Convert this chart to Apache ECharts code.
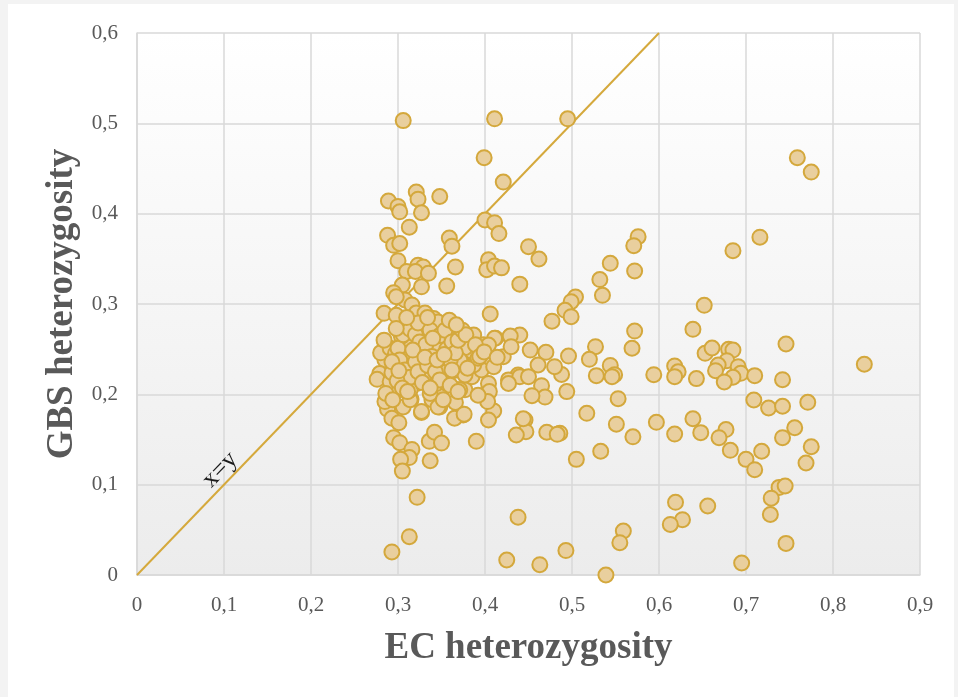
<!DOCTYPE html>
<html>
<head>
<meta charset="utf-8">
<script src="https://cdn.jsdelivr.net/npm/echarts@6/dist/echarts.min.js"></script>
<style>
  html, body { margin: 0; padding: 0; background: #f3f3f3; }
  #frame { position: absolute; left: 8px; top: 4px; right: 4px; bottom: 0; background: #ffffff; }
  #chart { position: absolute; left: -8px; top: -4px; width: 958px; height: 697px; }
</style>
</head>
<body>
<div id="frame"><div id="chart"></div></div>
<script>
// EC vs GBS heterozygosity per marker
const ecHet = [
  0.306,0.411,0.495,0.399,0.421,0.759,0.775,0.289,0.300,0.302,0.321,0.323,0.327,0.348,0.313,0.288,0.295,0.302,0.359,0.362,
  0.400,0.411,0.416,0.450,0.462,0.576,0.571,0.716,0.685,0.544,0.572,0.532,0.535,0.504,0.499,0.492,0.499,0.652,0.639,0.572,
  0.569,0.527,0.496,0.520,0.488,0.528,0.544,0.549,0.546,0.594,0.618,0.622,0.618,0.643,0.653,0.661,0.680,0.685,0.678,0.668,
  0.665,0.691,0.694,0.685,0.675,0.710,0.746,0.742,0.836,0.709,0.726,0.742,0.771,0.756,0.553,0.517,0.551,0.597,0.639,0.618,
  0.648,0.677,0.669,0.570,0.486,0.742,0.375,0.410,0.404,0.390,0.446,0.447,0.436,0.471,0.483,0.505,0.533,0.682,0.700,0.710,
  0.718,0.775,0.769,0.738,0.745,0.729,0.728,0.746,0.695,0.619,0.656,0.627,0.613,0.438,0.425,0.463,0.493,0.559,0.555,0.539,
  0.286,0.288,0.293,0.301,0.295,0.302,0.316,0.313,0.303,0.305,0.337,0.336,0.342,0.350,0.327,0.322,0.313,0.293,0.306,0.315,
  0.349,0.348,0.339,0.365,0.366,0.376,0.356,0.377,0.292,
  0.300,0.323,0.329,0.366,0.310,0.320,0.335,0.404,0.402,0.411,0.419,0.440,0.305,0.295,0.327,0.356,0.308,0.316,0.406,0.284,
  0.298,0.321,0.331,0.341,0.346,0.477,
  0.302,0.312,0.285,0.279,0.276,0.291,0.285,0.314,0.327,0.346,0.369,0.383,0.379,0.398,0.412,0.429,0.440,0.438,0.427,0.387,
  0.356,0.344,0.330,0.321,0.309,0.304,0.375,0.390,0.406,0.367,0.358,0.354,0.3425,0.333,0.329,0.318,0.310,0.308,0.3215,0.333,
  0.3445,0.302,0.314,0.337,0.357,0.352,0.385,0.396,
  0.452,0.470,0.461,0.480,0.494,0.465,0.469,0.454,0.440,0.450,0.427,0.429,0.411,0.404,0.377,0.410,0.404,0.405,0.387,0.392,
  0.371,0.377,0.421,0.430,0.352,0.356,0.355,0.371,0.403,0.444,
  0.280,0.291,0.297,0.300,0.306,0.314,0.320,0.323,0.325,0.332,0.337,0.339,0.348,0.354,0.356,0.360,0.362,0.366,0.369,0.374,
  0.378,0.389,0.394,0.302,0.308,0.314,0.320,0.323,0.328,0.334,0.343,0.348,0.362,0.293,0.299,0.305,0.311,0.286,0.294,0.317,
  0.331,0.345,0.353,0.380,0.284,0.298,0.310,0.334,0.359,0.367,0.340,0.293,0.301,0.337,0.360,0.369,0.392,0.399,0.414,0.298
];
const gbsHet = [
  0.503,0.505,0.505,0.462,0.435,0.462,0.446,0.414,0.408,0.402,0.424,0.416,0.401,0.419,0.385,0.376,0.365,0.367,0.373,0.364,
  0.393,0.390,0.378,0.3635,0.3498,0.3745,0.3646,0.374,0.359,0.345,0.3366,0.327,0.3096,0.3078,0.3026,0.293,0.286,0.2985,0.272,0.270,
  0.251,0.2528,0.2424,0.2388,0.222,0.2207,0.232,0.2218,0.2196,0.2218,0.2314,0.225,0.2196,0.2174,0.2454,0.2513,0.2498,0.249,0.2373,0.2325,
  0.2262,0.2306,0.2233,0.2189,0.2137,0.2207,0.2557,0.2162,0.2333,0.1937,0.1849,0.1868,0.1912,0.163,0.1952,0.179,0.167,0.169,0.173,0.156,
  0.1576,0.161,0.152,0.153,0.157,0.152,0.177,0.1816,0.1716,0.148,0.1716,0.1587,0.155,0.158,0.1557,0.128,0.137,0.138,0.128,0.1166,
  0.137,0.142,0.124,0.097,0.0985,0.085,0.067,0.035,0.0133,0.0805,0.0764,0.0612,0.056,0.064,0.0166,0.0114,0.027,0.0487,0.0358,0.000,
  0.1915,0.1834,0.1735,0.1686,0.152,0.1465,0.139,0.130,0.128,0.115,0.1265,0.148,0.158,0.146,0.180,0.086,0.0424,0.0255,0.186,0.1945,
  0.200,0.186,0.194,0.1735,0.191,0.178,0.212,0.205,0.212,
  0.348,0.343,0.341,0.341,0.336,0.336,0.334,0.349,0.338,0.342,0.340,0.322,0.321,0.3125,0.319,0.320,0.3045,0.299,0.289,0.2897,
  0.2875,0.290,0.290,0.284,0.280,0.281,
  0.269,0.272,0.238,0.223,0.2166,0.214,0.192,0.194,0.181,0.186,0.205,0.249,0.242,0.255,0.262,0.264,0.2657,0.2214,0.216,0.2657,
  0.2676,0.2565,0.260,0.253,0.2546,0.264,0.2343,0.236,0.2325,0.227,0.2417,0.2306,0.2343,0.2417,0.227,0.2306,0.240,0.2233,0.212,0.216,
  0.212,0.205,0.205,0.201,0.216,0.194,0.2196,0.227,
  0.249,0.2465,0.2325,0.2306,0.203,0.2096,0.197,0.1985,0.2196,0.2196,0.212,0.2646,0.262,0.2546,0.2517,0.2306,0.212,0.203,0.2325,0.240,
  0.238,0.2214,0.2417,0.2528,0.2417,0.225,0.213,0.205,0.192,0.173,
  0.246,0.251,0.245,0.251,0.266,0.272,0.266,0.279,0.258,0.255,0.271,0.242,0.265,0.271,0.250,0.238,0.258,0.246,0.260,0.271,
  0.266,0.255,0.242,0.238,0.227,0.219,0.236,0.225,0.213,0.232,0.225,0.216,0.227,0.224,0.215,0.207,0.203,0.201,0.194,0.249,
  0.241,0.238,0.244,0.229,0.260,0.273,0.285,0.285,0.282,0.277,0.262,0.236,0.226,0.207,0.210,0.203,0.199,0.247,0.241,0.308
];
// identity reference line x = y
const identityLine = [[0, 0], [0.6, 0.6]];
const xTicks = { min: 0, max: 0.9, step: 0.1 };
const yTicks = { min: 0, max: 0.6, step: 0.1 };

const points = ecHet.map((x, i) => [x, gbsHet[i]]);
const fmt = v => (v === 0 ? '0' : v.toFixed(1).replace('.', ','));
const serif = '"Liberation Serif", "DejaVu Serif", serif';
const gridLine = { lineStyle: { color: '#d9d9d9', width: 1.5 } };
const titleStyle = { fontFamily: serif, fontWeight: 'bold', fontSize: 37, color: '#595959' };
const tickStyle = { formatter: fmt, fontFamily: serif, fontSize: 21, color: '#595959' };

const chart = echarts.init(document.getElementById('chart'), null, { renderer: 'canvas' });
chart.setOption({
  animation: false,
  backgroundColor: 'transparent',
  grid: {
    left: 137, right: 38, top: 33, bottom: 122,
    show: true,
    borderWidth: 0,
    backgroundColor: {
      type: 'linear', x: 0, y: 0, x2: 0, y2: 1,
      colorStops: [{ offset: 0, color: '#ffffff' }, { offset: 1, color: '#ececec' }]
    }
  },
  xAxis: {
    type: 'value', min: xTicks.min, max: xTicks.max, interval: xTicks.step,
    name: 'EC heterozygosity', nameLocation: 'middle', nameGap: 55,
    nameTextStyle: titleStyle,
    axisLine: { show: true, lineStyle: { color: '#d9d9d9', width: 1.5 } },
    axisTick: { show: false },
    axisLabel: Object.assign({ margin: 20 }, tickStyle),
    splitLine: Object.assign({ show: true }, gridLine)
  },
  yAxis: {
    type: 'value', min: yTicks.min, max: yTicks.max, interval: yTicks.step,
    name: 'GBS heterozygosity', nameLocation: 'middle', nameGap: 55,
    nameTextStyle: titleStyle,
    axisLine: { show: true, lineStyle: { color: '#d9d9d9', width: 1.5 } },
    axisTick: { show: false },
    axisLabel: Object.assign({ margin: 19 }, tickStyle),
    splitLine: Object.assign({ show: true }, gridLine)
  },
  series: [
    {
      type: 'line',
      data: identityLine,
      symbol: 'none',
      lineStyle: { color: '#d5a93c', width: 2 },
      z: 1,
      markPoint: {
        symbol: 'circle', symbolSize: 0,
        data: [{ coord: [0.1, 0.1] }],
        label: {
          show: true, formatter: 'x=y', rotate: 46, offset: [8, -13],
          fontFamily: serif, fontSize: 25, color: '#1a1a1a'
        }
      }
    },
    {
      type: 'scatter',
      data: points,
      symbol: 'circle',
      symbolSize: 15,
      itemStyle: { color: '#e9cf9e', borderColor: '#d4a83c', borderWidth: 2, opacity: 1 },
      z: 2
    }
  ]
});
</script>
</body>
</html>
